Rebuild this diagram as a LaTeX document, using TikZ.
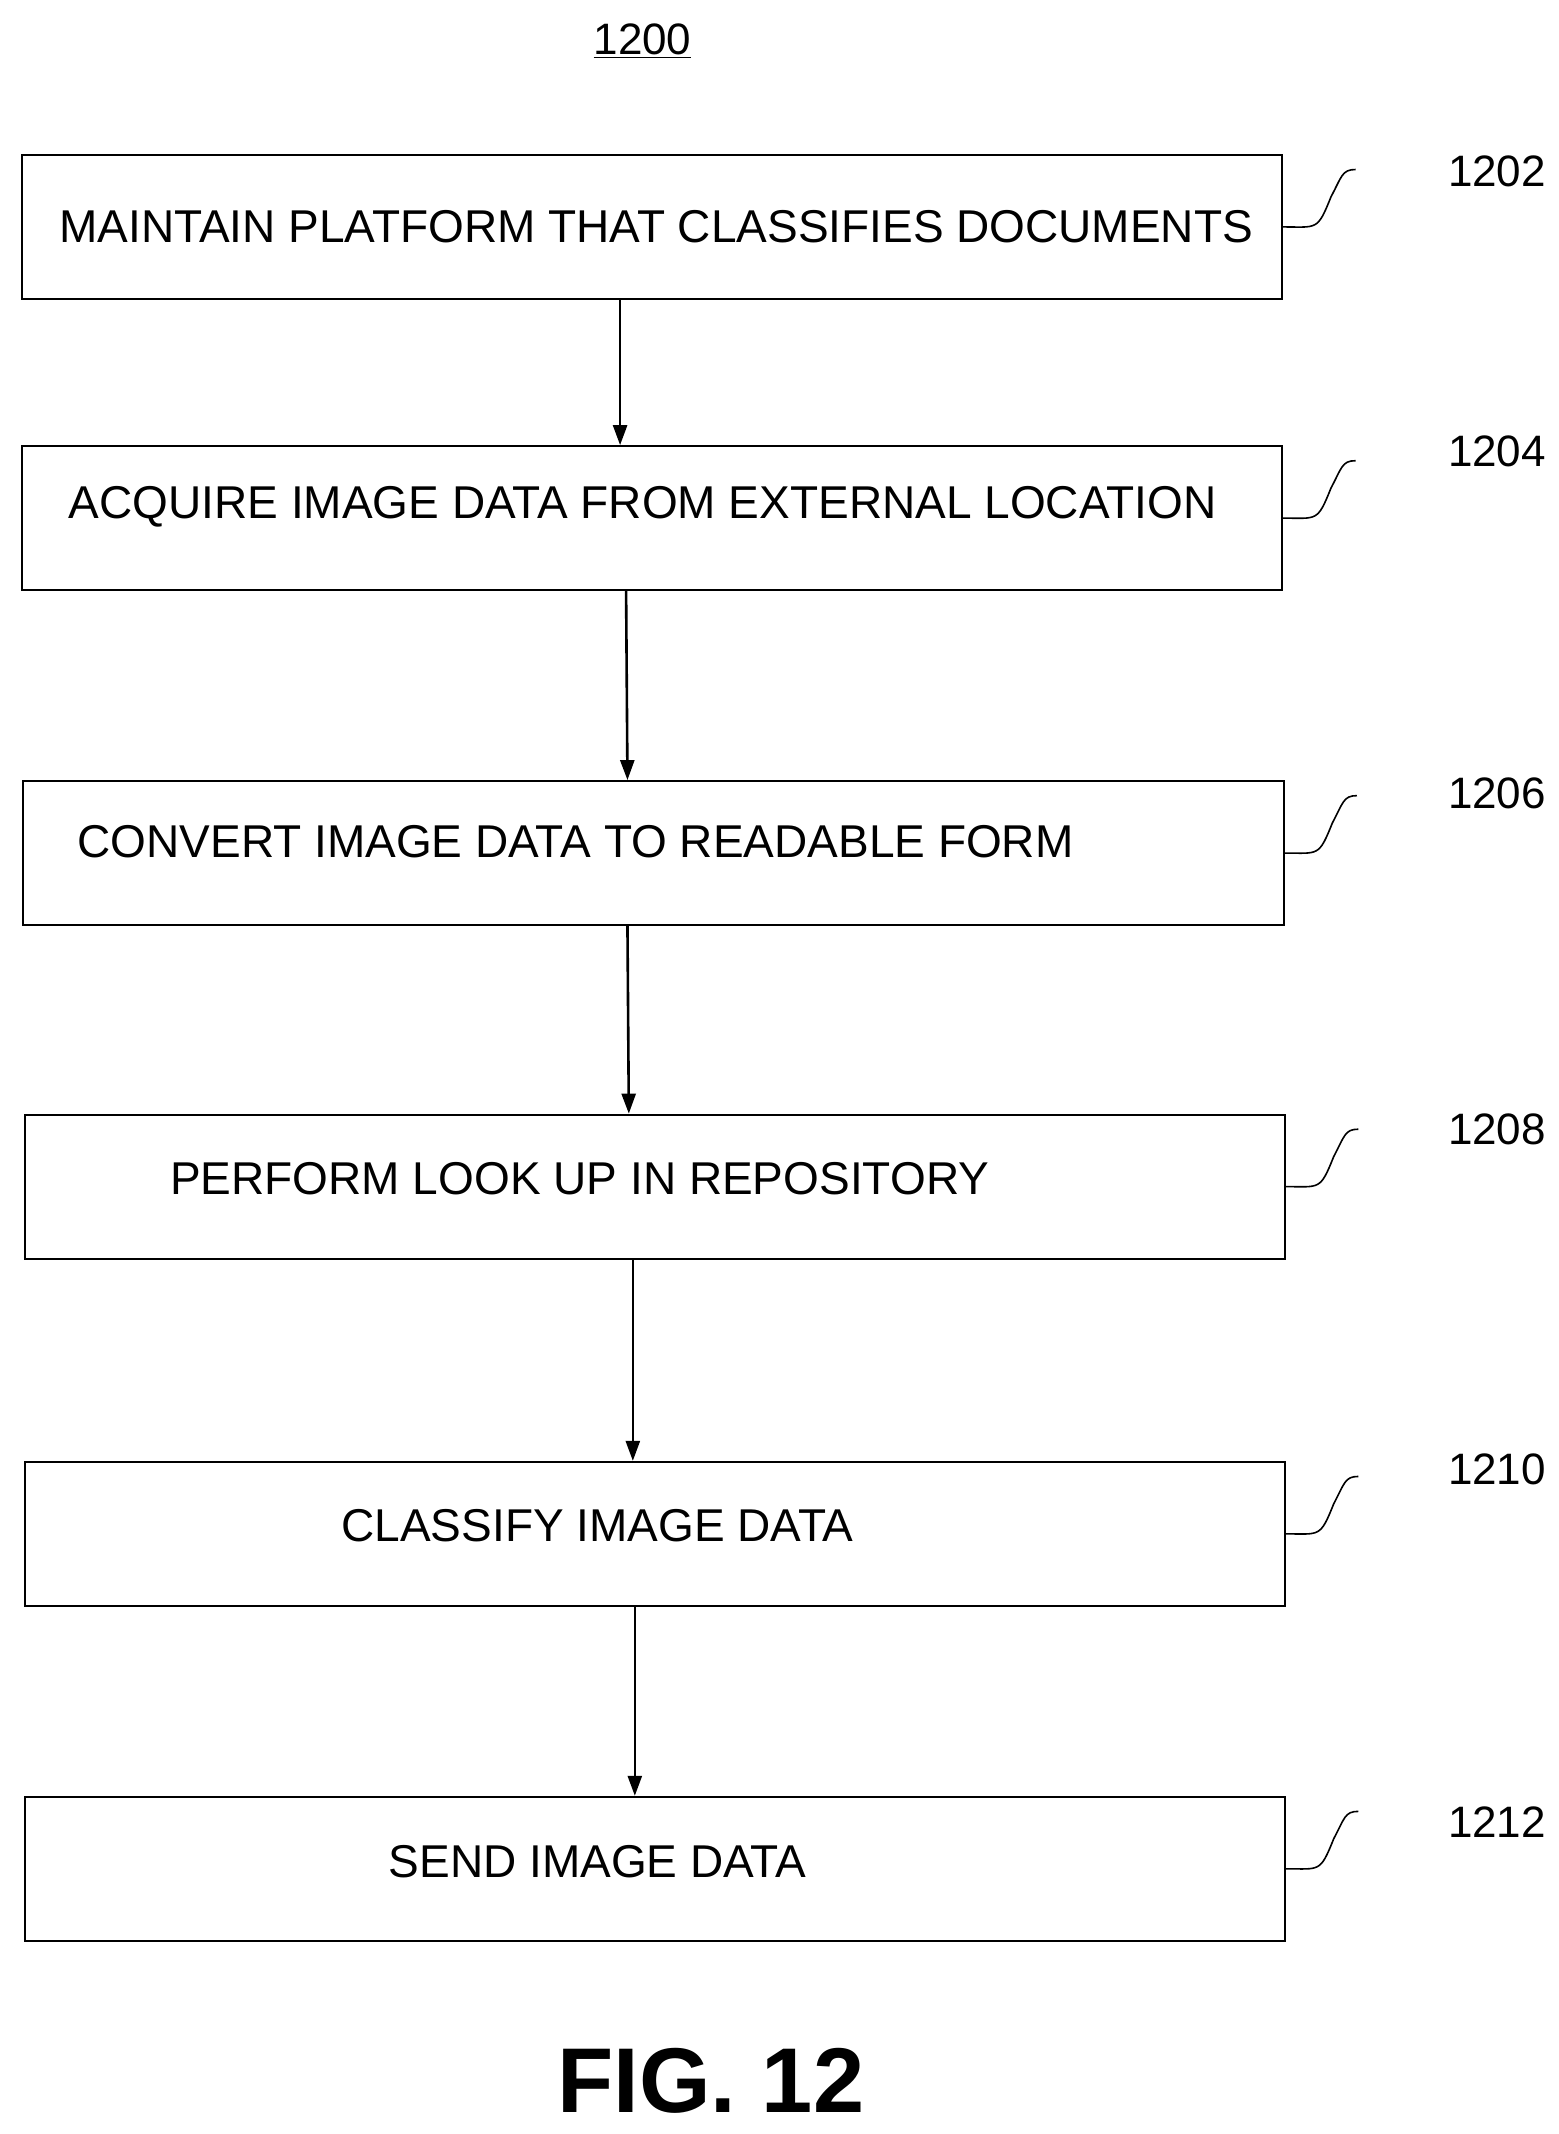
\documentclass[tikz,border=0pt]{standalone}
\usepackage{fontspec}
\setmainfont{Liberation Sans}
\usetikzlibrary{arrows.meta,positioning}
\tikzset{
    stepbox/.style={draw,line width=1pt,minimum width=630pt,minimum height=72pt,inner sep=0pt},
    steptext/.style={font=\fontsize{23}{26}\selectfont},
    reflabel/.style={font=\fontsize{22}{25}\selectfont},
    flow/.style={-{Triangle[length=10pt,width=7pt]},line width=1.3pt}
}
\begin{document}
\begin{tikzpicture}[x=0.6835pt,y=-0.6835pt]
    \useasboundingbox (0,0) rectangle (1140,1561);

    \node[reflabel] (fignum) at (470,30) {\underline{1200}};

    % process boxes
    \node[stepbox] (s1) at (477,166)  {};
    \node[stepbox] (s2) at (477,379)  {};
    \node[stepbox] (s3) at (478,624)  {};
    \node[stepbox] (s4) at (479,868)  {};
    \node[stepbox] (s5) at (479,1122) {};
    \node[stepbox] (s6) at (479,1367) {};

    \node[steptext] at (480,166)  {MAINTAIN PLATFORM THAT CLASSIFIES DOCUMENTS};
    \node[steptext] at (470,371)  {ACQUIRE IMAGE DATA FROM EXTERNAL LOCATION};
    \node[steptext] at (421,616)  {CONVERT IMAGE DATA TO READABLE FORM};
    \node[steptext] at (424,862)  {PERFORM LOOK UP IN REPOSITORY};
    \node[steptext] at (437,1116) {CLASSIFY IMAGE DATA};
    \node[steptext] at (437,1362) {SEND IMAGE DATA};

    % reference numbers with leader curves
    \foreach \s/\n/\y in {s1/1202/125,s2/1204/330,s3/1206/580,s4/1208/826,s5/1210/1075,s6/1212/1333}{
        \node[reflabel] (l\n) at (1095,\y) {\n};
        \draw[line width=0.8pt] (\s.east) .. controls +(25,0) and +(-10,25) .. ++(35,-22)
            .. controls +(8,-15) and +(-10,0) .. ++(18,-20);
    }

    % connectors
    \draw[flow] ([xshift=-16pt]s1.south) -- ([xshift=-16pt]s2.north);
    \draw[flow] ([xshift=-13pt]s2.south) -- ([xshift=-13pt]s3.north);
    \draw[flow] ([xshift=-13pt]s3.south) -- ([xshift=-13pt]s4.north);
    \draw[flow] ([xshift=-11pt]s4.south) -- ([xshift=-11pt]s5.north);
    \draw[flow] ([xshift=-10pt]s5.south) -- ([xshift=-10pt]s6.north);

    \node[font=\fontsize{46}{52}\selectfont\bfseries] (fig) at (520,1522) {FIG. 12};
\end{tikzpicture}
\end{document}
